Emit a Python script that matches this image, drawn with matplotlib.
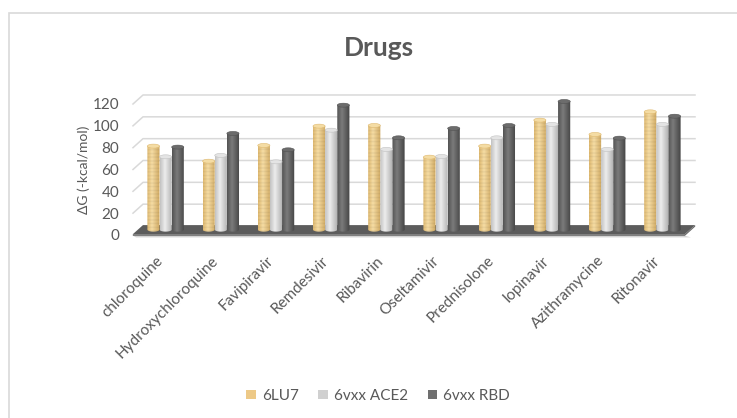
import numpy as np
import matplotlib
matplotlib.use("Agg")
import matplotlib.pyplot as plt
from matplotlib.patches import Polygon, Ellipse, Rectangle
from matplotlib.colors import to_rgb

# ---- data -------------------------------------------------------------
drugs = ["chloroquine", "Hydroxychloroquine", "Favipiravir", "Remdesivir",
         "Ribavirin", "Oseltamivir", "Prednisolone", "Iopinavir",
         "Azithramycine", "Ritonavir"]
lu7 = [76.5, 62.7, 77.1, 94.8, 95.4, 66.4, 76.5, 100.3, 87.2, 107.9]
ace2 = [66.7, 68.0, 62.1, 91.1, 73.5, 67.0, 84.1, 96.4, 73.5, 96.4]
rbd = [75.6, 88.1, 73.1, 114.0, 84.1, 92.7, 95.4, 117.4, 83.8, 103.9]
series_names = ["6LU7", "6vxx ACE2", "6vxx RBD"]
y_ticks = [0, 20, 40, 60, 80, 100, 120]

# ---- styling ------------------------------------------------------------
plt.rcParams["font.family"] = ["Lato", "DejaVu Sans"]
TXT = "#595959"
# left edge, highlight, right edge, top cap
shades = [
    ("#dfb970", "#f6dda5", "#cfa860", "#f4dca4"),
    ("#c2c2c2", "#ededed", "#adadad", "#e4e4e4"),
    ("#535353", "#7b7b7b", "#444444", "#6c6c6c"),
]
legend_colors = ["#edc987", "#d0d0d0", "#6f6f6f"]

W, H = 737, 418
fig = plt.figure(figsize=(W / 100, H / 100), dpi=100)

# front plane of the 3-D box: x from 133px to 685px, value 0 at y=235px
px_per_unit = 1.0917
y_lo, y_hi = -10, 135
bot_px = 235 + (0 - y_lo) * px_per_unit
top_px = 235 - y_hi * px_per_unit
ax = fig.add_axes([133 / W, 1 - bot_px / H, 552 / W, (bot_px - top_px) / H])
ax.set_xlim(-0.5, 9.5)
ax.set_ylim(y_lo, y_hi)
for s in ax.spines.values():
    s.set_visible(False)

# depth of the box (back wall offset)
dxu = 10 / 55.2
dyu = 9 / px_per_unit

# back-wall gridlines with the slanted side-wall part
for v in y_ticks:
    ax.plot([-0.5, -0.5 + dxu, 9.5 + dxu], [v, v + dyu, v + dyu],
            color="#d9d9d9", lw=1.1, clip_on=False, zorder=0.5)

# floor
fl = 0.8
ax.add_patch(Polygon([(-0.5, fl), (9.5, fl), (9.5 + dxu, fl + dyu),
                      (-0.5 + dxu, fl + dyu)], closed=True,
                     facecolor="#5c5c5c", edgecolor="none", zorder=1,
                     clip_on=False))
ax.add_patch(Polygon([(-0.5, -0.7), (9.5, -0.7), (9.5, fl), (-0.5, fl)],
                     closed=True, facecolor="#808080", edgecolor="none",
                     zorder=1, clip_on=False))
ax.add_patch(Polygon([(9.5, -0.7), (9.5 + dxu, -0.7 + dyu),
                      (9.5 + dxu, fl + dyu), (9.5, fl)], closed=True,
                     facecolor="#6a6a6a", edgecolor="none", zorder=1,
                     clip_on=False))
ax.add_patch(Polygon([(-0.5, -0.7), (9.5, -0.7), (9.5 + dxu * 0.6, -2.2),
                      (-0.5 + dxu * 0.3, -2.2)], closed=True,
                     facecolor="#d4d4d4", edgecolor="none", zorder=0.9,
                     clip_on=False))

# cylinders
bw = 0.22
offsets = [-0.22, 0.0, 0.22]
base = fl + dyu / 2
cap_h = 4 / px_per_unit
x_shift = dxu / 2


def cylinder_image(left, mid, right, nrows, striped):
    t = np.linspace(0, 1, 40)
    l, m, r = (np.array(to_rgb(c)) for c in (left, mid, right))
    cols = np.empty((40, 3))
    for i, tt in enumerate(t):
        if tt < 0.38:
            a = tt / 0.38
            cols[i] = l * (1 - a) + m * a
        else:
            a = (tt - 0.38) / 0.62
            cols[i] = m * (1 - a) + r * a
    img = np.repeat(cols[None, :, :], nrows, axis=0)
    if striped:
        rows = np.arange(nrows)
        band = 1 - 0.05 * (np.sin(2 * np.pi * rows / 7.5) > 0.3)
        img = img * band[:, None, None]
    return np.clip(img, 0, 1)


for k, vals in enumerate([lu7, ace2, rbd]):
    left, mid, right, cap = shades[k]
    for i, v in enumerate(vals):
        xc = i + offsets[k] + x_shift
        x0, x1 = xc - bw / 2, xc + bw / 2
        top = base + v
        th = np.linspace(np.pi, 2 * np.pi, 30)
        arc = np.column_stack([xc + bw / 2 * np.cos(th),
                               base + cap_h / 2 * np.sin(th)])
        outline = np.vstack([[x0, top], arc, [x1, top]])
        body = Polygon(outline, closed=True, facecolor="none",
                       edgecolor="none", zorder=3)
        ax.add_patch(body)
        nrows = int((top - base + cap_h) * px_per_unit * 2)
        img = cylinder_image(left, mid, right, nrows, k == 0)
        im = ax.imshow(img, extent=[x0, x1, base - cap_h / 2, top],
                       origin="lower", aspect="auto",
                       interpolation="bilinear", zorder=3)
        im.set_clip_path(body)
        ax.add_patch(Ellipse((xc, top), bw, cap_h, facecolor=cap,
                             edgecolor=left, lw=0.4, zorder=3.5))

ax.set_xlim(-0.5, 9.5)
ax.set_ylim(y_lo, y_hi)

# axes ticks and labels
ax.set_yticks(y_ticks)
ax.set_yticklabels([str(t) for t in y_ticks])
ax.tick_params(axis="y", length=0, pad=10, labelsize=11, labelcolor=TXT)
ax.set_xticks(range(len(drugs)))
ax.set_xticklabels(drugs, rotation=45, ha="right", va="center",
                   rotation_mode="anchor")
ax.tick_params(axis="x", length=0, pad=9, labelsize=11, labelcolor=TXT)

fig.text(84 / W, 1 - 170 / H, "ΔG (-kcal/mol)", rotation=90, ha="center",
         va="center", fontsize=10, color=TXT)
fig.text(379 / W, 1 - 48 / H, "Drugs", ha="center", va="center",
         fontsize=19, fontweight="bold", color=TXT)

handles = [Rectangle((0, 0), 1, 1, facecolor=c, edgecolor="none")
           for c in legend_colors]
fig.legend(handles, series_names, loc="center",
           bbox_to_anchor=(378 / W, 1 - 396 / H), ncol=3, frameon=False,
           fontsize=11, handlelength=0.6, handleheight=0.6,
           handletextpad=0.4, columnspacing=1.3, labelcolor=TXT)

# chart area border
fig.add_artist(Rectangle((9 / W, -0.1), 1.2, 1 - 13 / H + 0.1,
                         transform=fig.transFigure, fill=False,
                         edgecolor="#d9d9d9", lw=1.2))

fig.savefig("out.png", dpi=100)
